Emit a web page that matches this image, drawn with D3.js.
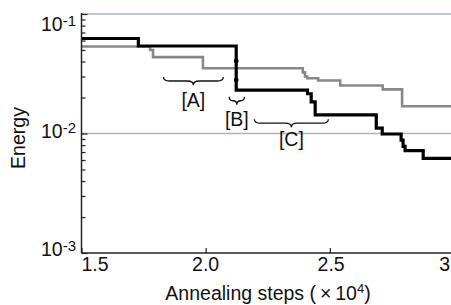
<!DOCTYPE html>
<html><head><meta charset="utf-8">
<script src="https://cdn.jsdelivr.net/npm/d3@7"></script>
<style>
html,body{margin:0;padding:0;background:#fff;}
svg{display:block;font-family:"Liberation Sans",Arial,sans-serif;}
</style></head>
<body>
<svg id="c" width="451" height="305"></svg>
<script>
// ---- data ----
const blackX = [1.5, 1.729, 2.123, 2.41, 2.425, 2.441, 2.687, 2.711, 2.787, 2.795, 2.803, 2.876, 3.0];
const blackE = [0.0624, 0.054, 0.0231, 0.0215, 0.0184, 0.0143, 0.0111, 0.0099, 0.0088, 0.0078, 0.0072, 0.0062, 0.0062];
const grayX = [1.5, 1.776, 1.788, 1.989, 2.391, 2.400, 2.409, 2.453, 2.542, 2.713, 2.791, 3.0];
const grayE = [0.0535, 0.050, 0.0436, 0.0352, 0.0325, 0.0300, 0.0290, 0.0278, 0.0252, 0.0234, 0.0169, 0.0169];
const dotX = [2.123, 2.123];
const dotE = [0.0405, 0.0281];
const xTicks = [1.5, 2.0, 2.5, 3.0];
const xTickLabels = ["1.5", "2.0", "2.5", "3"];
const yTicks = [1e-1, 1e-2, 1e-3];
const yTickExp = ["-1", "-2", "-3"];
const gridE = [1e-1, 1e-2];
const braceLabels = ["[A]", "[B]", "[C]"];
const braceX0 = [1.830, 2.095, 2.196];
const braceX1 = [2.071, 2.156, 2.494];
const braceE = [0.0275, 0.0188, 0.0122];
const labelE = [0.0168, 0.0116, 0.0078];

// ---- scales ----
const svg = d3.select("#c");
const x = d3.scaleLinear().domain([1.5, 3.0]).range([81.5, 454]);
const y = d3.scaleLog().domain([1e-3, 1e-1]).range([253, 14]);
const fs = 19.5;

// grid lines
svg.selectAll("line.grid").data(gridE).enter().append("line")
  .attr("x1", x(1.5)).attr("x2", 451)
  .attr("y1", d => y(d)).attr("y2", d => y(d))
  .attr("stroke", "#a6b7bb").attr("stroke-width", 1.6);

// series
const line = d3.line().x(d => x(d[0])).y(d => y(d[1])).curve(d3.curveStepAfter);
svg.append("path").datum(d3.zip(grayX, grayE)).attr("d", line)
  .attr("fill", "none").attr("stroke", "#888").attr("stroke-width", 2.6);
svg.append("path").datum(d3.zip(blackX, blackE)).attr("d", line)
  .attr("fill", "none").attr("stroke", "#000").attr("stroke-width", 3.2);
svg.selectAll("circle.dot").data(d3.zip(dotX, dotE)).enter().append("circle")
  .attr("cx", d => x(d[0])).attr("cy", d => y(d[1])).attr("r", 2.4).attr("fill", "#000");

// y axis
const yAxis = d3.axisRight(y).tickValues(
  d3.range(-3, -1).flatMap(e => d3.range(1, 10).map(m => m * Math.pow(10, e))).concat([0.1]))
  .tickSize(4).tickFormat("");
const ya = svg.append("g").attr("transform", `translate(${x(1.5)},0)`).call(yAxis);
ya.select(".domain").attr("stroke", "#222").attr("stroke-width", 1.5).attr("d", `M0,${y(1e-3)}V13`);
ya.selectAll(".tick line").attr("stroke", "#222").attr("stroke-width", 1.2)
  .attr("x2", d => (Math.abs(Math.log10(d) - Math.round(Math.log10(d))) < 1e-6 ? 6 : 4));

// y tick labels
const yOff = [16.5, 4.8, 3];
yTicks.forEach((t, i) => {
  const tx = svg.append("text").attr("x", 76).attr("y", y(t) + yOff[i])
    .attr("text-anchor", "end").attr("font-size", fs).attr("fill", "#111");
  tx.append("tspan").text("10");
  tx.append("tspan").attr("font-size", 15).attr("dy", -5).text(yTickExp[i]);
});

// x axis
const xAxis = d3.axisTop(x).tickValues(xTicks).tickSize(5).tickFormat("");
const xa = svg.append("g").attr("transform", `translate(0,${y(1e-3)})`).call(xAxis);
xa.select(".domain").attr("stroke", "#222").attr("stroke-width", 1.5).attr("d", `M${x(1.5)},0H451`);
xa.selectAll(".tick line").attr("stroke", "#222").attr("stroke-width", 1.2);
const xLabOff = [13.5, 0, 1.3, 0];
const xLabAnchor = ["middle", "middle", "middle", "end"];
xTicks.forEach((t, i) => {
  svg.append("text").attr("x", i === 3 ? 450 : x(t) + xLabOff[i]).attr("y", 270.5)
    .attr("text-anchor", xLabAnchor[i]).attr("font-size", fs).attr("fill", "#111").text(xTickLabels[i]);
});

// axis titles
const xt = svg.append("text").attr("x", 268).attr("y", 299.5).attr("text-anchor", "middle")
  .attr("font-size", fs).attr("fill", "#111");
xt.append("tspan").text("Annealing steps (\u2009\u00d7\u200910");
xt.append("tspan").attr("font-size", 13).attr("dy", -7).text("4");
xt.append("tspan").attr("dy", 7).text(")");
svg.append("text").attr("transform", "translate(25,138) rotate(-90)")
  .attr("text-anchor", "middle").attr("font-size", fs).attr("fill", "#111").text("Energy");

// braces
function brace(x0, x1, yy, up, down) {
  const xm = (x0 + x1) / 2, r = Math.min(6, (x1 - x0) / 4);
  return `M${x0},${yy - up} Q${x0},${yy} ${x0 + r},${yy} L${xm - r},${yy} Q${xm},${yy} ${xm},${yy + down}` +
         ` Q${xm},${yy} ${xm + r},${yy} L${x1 - r},${yy} Q${x1},${yy} ${x1},${yy - up}`;
}
braceLabels.forEach((lab, i) => {
  svg.append("path").attr("d", brace(x(braceX0[i]), x(braceX1[i]), y(braceE[i]), 4, 4))
    .attr("fill", "none").attr("stroke", "#111").attr("stroke-width", 1.3);
  svg.append("text").attr("x", x((braceX0[i] + braceX1[i]) / 2)).attr("y", y(labelE[i]))
    .attr("text-anchor", "middle").attr("font-size", fs).attr("fill", "#111").text(lab);
});
</script>
</body></html>
